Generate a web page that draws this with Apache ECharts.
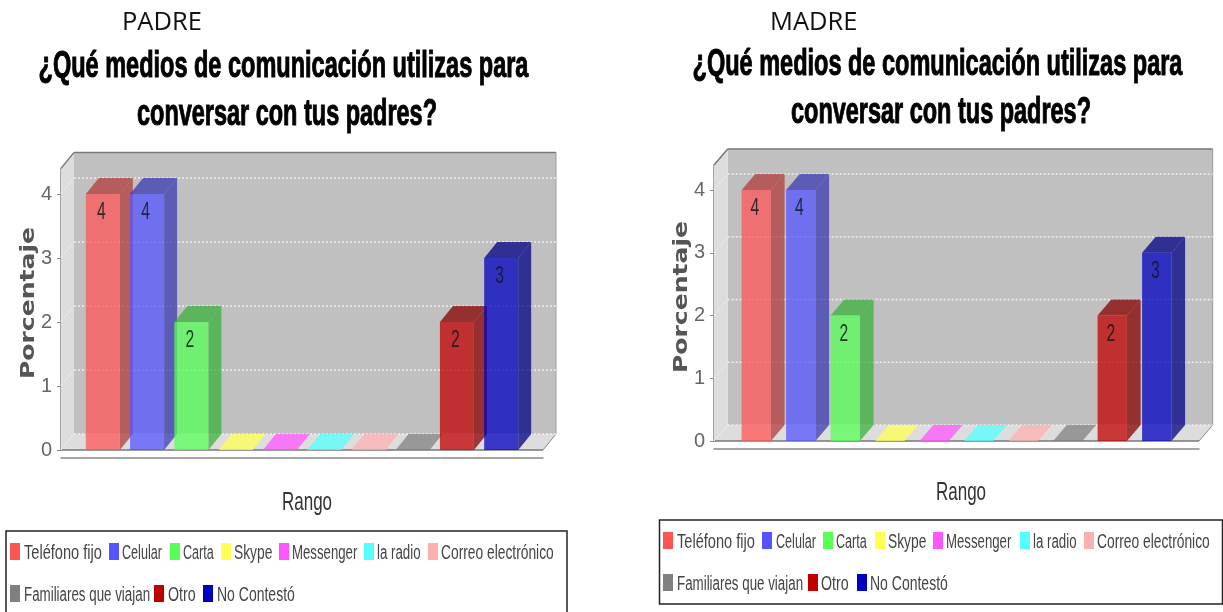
<!DOCTYPE html>
<html><head><meta charset="utf-8">
<style>html,body{margin:0;padding:0;background:#fff}#c{width:1223px;height:612px}</style>
<script src="https://cdn.jsdelivr.net/npm/echarts@6/dist/echarts.min.js"></script>
</head><body><div id="c"></div>
<script>
const seriesNames = ['Teléfono fijo','Celular','Carta','Skype','Messenger','la radio','Correo electrónico','Familiares que viajan','Otro','No Contestó'];
const seriesColors = ['#ff5555','#5555ff','#55ff55','#ffff55','#ff55ff','#55ffff','#ffafaf','#808080','#c00000','#0000c0'];
const padreValues = [4,4,2,0,0,0,0,0,2,3];
const madreValues = [4,4,2,0,0,0,0,0,2,3];
const yTicks = [0,1,2,3,4];
const titleLine1 = '¿Qué medios de comunicación utilizas para';
const titleLine2 = 'conversar con tus padres?';
const xAxisName = 'Rango';
const yAxisName = 'Porcentaje';

const SANS = '"Liberation Sans",sans-serif';
const legendScale = [0.73,0.63,0.63,0.69,0.66,0.665,0.69,0.667,0.71,0.70];
const panels = [
  {values:padreValues,label:'PADRE',labelX:122,labelY:10,titleX:283.5,title1Y:67,title2Y:115,left:61,right:543,top:168.4,bottom:450,dx:13,dy:16,step:44.26,barW:34,
   nameX:29,nameY:303,rangoX:307,rangoY:503,legendX:6,legendY:531,legendW:561,legendH:90,rowY:[553,595],
   swatchX:[10,109,170,221,279,364,428,10,154,203],textX:[24,122,183,234,292,377,441,24,168,217]},
  {values:madreValues,label:'MADRE',labelX:770,labelY:10,titleX:937.5,title1Y:65,title2Y:113,left:714,right:1199,top:165,bottom:441,dx:13.7,dy:16,step:44.5,barW:29.3,
   nameX:682,nameY:297,rangoX:961,rangoY:493,legendX:659.5,legendY:520,legendW:563,legendH:84,rowY:[542,584],
   swatchX:[663,762,823,875,933,1020,1084,663,808,857],textX:[677,776,836,888,946,1033,1097,677,821,870]}
];
function darker(hex){
  const n=parseInt(hex.slice(1),16);
  const c=[n>>16,(n>>8)&255,n&255].map(v=>Math.floor(v*0.7));
  return 'rgb('+c.join(',')+')';
}
function poly(points,fill,opacity){return {type:'polygon',shape:{points},style:{fill,opacity:opacity==null?1:opacity,stroke:null}};}
function line(a,b,stroke,lineWidth,dash){return {type:'line',shape:{x1:a[0],y1:a[1],x2:b[0],y2:b[1]},style:{stroke,lineWidth,lineDash:dash||null,fill:null}};}

const option={animation:false,backgroundColor:'#fff',grid:[],xAxis:[],yAxis:[],series:[],title:[],graphic:[]};
panels.forEach((p,pi)=>{
  option.grid.push({left:p.left,top:p.top,width:p.right-p.left,height:p.bottom-p.top,containLabel:false});
  option.xAxis.push({type:'category',gridIndex:pi,data:[''],offset:8,
    axisLine:{onZero:false,lineStyle:{color:'#888',width:1.5}},axisTick:{alignWithLabel:true,length:4,lineStyle:{color:'#888'}},axisLabel:{show:false},splitLine:{show:false}});
  option.yAxis.push({type:'value',gridIndex:pi,min:0,max:4.4,interval:1,
    axisLine:{show:true,lineStyle:{color:'#888',width:1.5}},axisTick:{show:true,length:4,lineStyle:{color:'#888'},customValues:yTicks},
    axisLabel:{fontFamily:SANS,fontSize:20,color:'#666',margin:9,customValues:yTicks},splitLine:{show:false}});
  option.series.push({type:'custom',name:'fondo'+pi,xAxisIndex:pi,yAxisIndex:pi,silent:true,clip:false,z:1,
    data:yTicks.map(t=>[0,t]),encode:{x:0,y:1},
    renderItem(params,api){
      const cs=params.coordSys,x0=cs.x,x1=cs.x+cs.width,y0=cs.y,y1=cs.y+cs.height,dx=p.dx,dy=p.dy;
      const pt=api.coord([0,api.value(1)]);
      const kids=[];
      if(params.dataIndex===0){
        kids.push(poly([[x0+dx,y0-dy],[x1+dx,y0-dy],[x1+dx,y1-dy],[x0+dx,y1-dy]],'#c0c0c0'));
        kids.push(poly([[x0,y0],[x0+dx,y0-dy],[x0+dx,y1-dy],[x0,y1]],'#dddddd'));
        kids.push(poly([[x0,y1],[x0+dx,y1-dy],[x1+dx,y1-dy],[x1,y1]],'#dddddd'));
        kids.push(line([x0,y0],[x0+dx,y0-dy],'#777',1.5));
        kids.push(line([x0+dx,y0-dy],[x1+dx,y0-dy],'#777',1.5));
        kids.push(line([x1+dx,y0-dy],[x1+dx,y1-dy],'#999',1));
        kids.push(line([x1+dx,y1-dy],[x1,y1],'#888',1));
        kids.push(line([x0,y1],[x1,y1],'#777',1.5));
      }
      kids.push(line([x0+dx,pt[1]-dy],[x1+dx,pt[1]-dy],'#f0f0f0',1.5,[2,2]));
      kids.push(line([x0,pt[1]],[x0+dx,pt[1]-dy],'#f4f4f4',1,[2,2]));
      return {type:'group',children:kids};
    }});
  seriesNames.forEach((name,i)=>{
    const color=seriesColors[i],dark=darker(color);
    option.series.push({type:'custom',name,xAxisIndex:pi,yAxisIndex:pi,clip:false,z:2,silent:true,
      itemStyle:{color},data:[[0,p.values[i]]],encode:{x:0,y:1},
      renderItem(params,api){
        const v=api.value(1),top=api.coord([0,v]),base=api.coord([0,0]);
        const xl=top[0]+(i-4.5)*p.step-p.barW/2,xr=xl+p.barW,dx=p.dx,dy=p.dy,kids=[];
        if(v===0){
          kids.push(poly([[xl,base[1]],[xl+dx,base[1]-dy],[xr+dx,base[1]-dy],[xr,base[1]]],color,0.75));
        }else{
          kids.push(poly([[xr,top[1]],[xr+dx,top[1]-dy],[xr+dx,base[1]-dy],[xr,base[1]]],dark,0.75));
          kids.push(poly([[xl,top[1]],[xl+dx,top[1]-dy],[xr+dx,top[1]-dy],[xr,top[1]]],dark,0.75));
          kids.push(poly([[xl,top[1]],[xr,top[1]],[xr,base[1]],[xl,base[1]]],color,0.75));
          kids.push({type:'text',x:(xl+xr)/2-1.5,y:top[1]+19,scaleX:0.68,style:{text:String(v),align:'center',verticalAlign:'middle',
            fontFamily:SANS,fontSize:23,fill:'rgba(20,20,30,0.85)'}});
        }
        return {type:'group',children:kids};
      }});
    // Legend entry: swatch and condensed label (labels in the reference are squeezed horizontally)
    const rowCenter=p.rowY[i<7?0:1];
    option.graphic.push({type:'rect',silent:true,shape:{x:p.swatchX[i],y:rowCenter-10,width:10,height:17},style:{fill:color}});
    option.graphic.push({type:'text',silent:true,x:p.textX[i],y:rowCenter,scaleX:legendScale[i],
      style:{text:name,align:'left',verticalAlign:'middle',fontFamily:SANS,fontSize:20,fill:'#444'}});
  });
  option.title.push({text:p.label,left:p.labelX,top:p.labelY,padding:0,textStyle:{fontFamily:'"Open Sans"',fontSize:25.5,fontWeight:'normal',color:'#111'}});
  const titleStyle={align:'center',verticalAlign:'middle',fontFamily:SANS,fontSize:36,fontWeight:'bold',fill:'#000',stroke:'#000',lineWidth:1};
  option.graphic.push({type:'text',silent:true,x:p.titleX,y:p.title1Y,scaleX:0.653,style:Object.assign({text:titleLine1},titleStyle)});
  option.graphic.push({type:'text',silent:true,x:p.titleX+3.5,y:p.title2Y,scaleX:0.652,style:Object.assign({text:titleLine2},titleStyle)});
  option.graphic.push({type:'rect',silent:true,z:0,shape:{x:p.legendX,y:p.legendY,width:p.legendW,height:p.legendH},style:{fill:'none',stroke:'#222',lineWidth:1.5}});
  option.graphic.push({type:'text',silent:true,x:p.nameX,y:p.nameY,rotation:Math.PI/2,scaleX:1.32,
    style:{text:yAxisName,align:'center',verticalAlign:'middle',fontFamily:'"DejaVu Sans"',fontWeight:'bold',fontSize:19,fill:'#555'}});
  option.graphic.push({type:'text',silent:true,x:p.rangoX,y:p.rangoY,scaleX:0.68,
    style:{text:xAxisName,align:'center',verticalAlign:'middle',fontFamily:SANS,fontSize:25,fill:'#333'}});
});
const chart=echarts.init(document.getElementById('c'),null,{renderer:'canvas'});
chart.setOption(option);
</script></body></html>
